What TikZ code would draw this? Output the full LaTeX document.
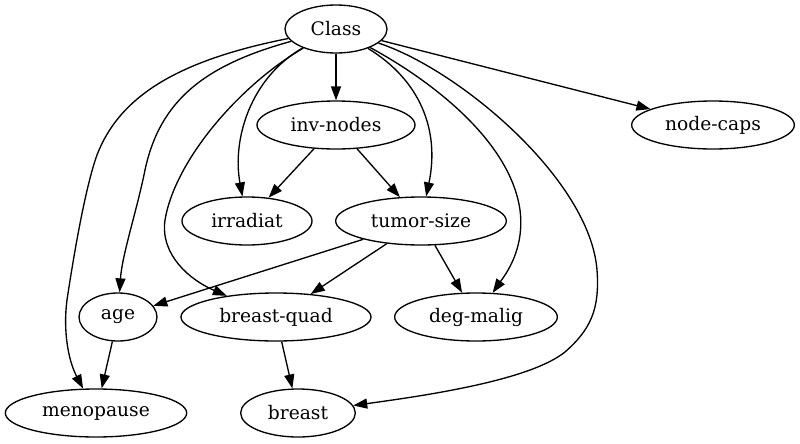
\documentclass[tikz,border=0pt]{standalone}
\usepackage{fontspec}
\setmainfont{DejaVu Serif}
\usetikzlibrary{shapes.geometric,arrows.meta}
\begin{document}
\begin{tikzpicture}[x=0.75pt,y=-0.75pt,
  nd/.style={ellipse,draw,line width=1pt,inner sep=0pt,minimum height=36pt,font=\fontsize{14}{16}\selectfont},
  ar/.style={line width=1pt,-{Triangle[length=10.5pt,width=7.5pt]}}]
\useasboundingbox (0,0) rectangle (800,443);
\node[nd,minimum width=76.5pt] (Class) at (336,29) {Class};
\node[nd,minimum width=118.5pt] (inv) at (336,125) {inv-nodes};
\node[nd,minimum width=122pt] (caps) at (713,125) {node-caps};
\node[nd,minimum width=97.5pt] (irr) at (247,221) {irradiat};
\node[nd,minimum width=128pt] (tum) at (421,221) {tumor-size};
\node[nd,minimum width=58.5pt] (age) at (118,317) {age};
\node[nd,minimum width=142.5pt] (bq) at (276,317) {breast-quad};
\node[nd,minimum width=122pt] (deg) at (476,317) {deg-malig};
\node[nd,minimum width=136pt] (meno) at (96,413) {menopause};
\node[nd,minimum width=86pt] (breast) at (298,413) {breast};

\draw[ar] (Class) -- (inv);
\draw[ar] (Class) -- (caps);
\draw[ar] (inv) -- (irr);
\draw[ar] (inv) -- (tum);
\draw[ar] (tum) -- (age);
\draw[ar] (tum) -- (bq);
\draw[ar] (tum) -- (deg);
\draw[ar] (age) -- (meno);
\draw[ar] (bq) -- (breast);

\draw[ar] (Class) .. controls (180,60) and (120,95) .. (97,155)
  .. controls (85,188) and (73,260) .. (67,300)
  .. controls (63,330) and (68,360) .. (meno);
\draw[ar] (Class) .. controls (205,65) and (160,100) .. (145,170)
  .. controls (137,210) and (122,255) .. (age);
\draw[ar] (Class) .. controls (240,85) and (175,160) .. (165,220)
  .. controls (160,255) and (190,280) .. (bq);
\draw[ar] (Class) .. controls (250,78) and (232,140) .. (irr);
\draw[ar] (Class) .. controls (420,80) and (440,130) .. (tum);
\draw[ar] (Class) .. controls (430,80) and (510,140) .. (520,210)
  .. controls (525,250) and (505,275) .. (deg);
\draw[ar] (Class) .. controls (460,70) and (590,180) .. (597,270)
  .. controls (600,310) and (590,330) .. (565,352)
  .. controls (530,380) and (430,395) .. (breast);
\end{tikzpicture}
\end{document}
